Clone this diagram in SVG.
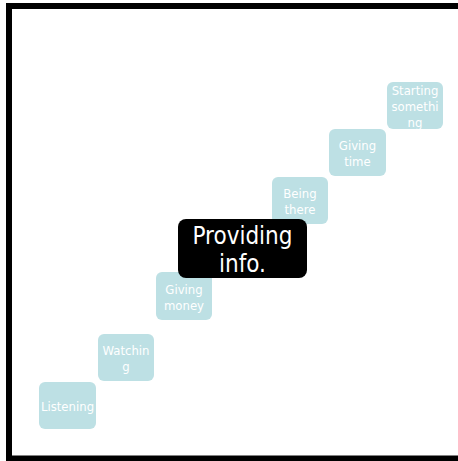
<svg xmlns="http://www.w3.org/2000/svg" width="458" height="461" viewBox="0 0 458 461">
<style>
.sb{fill:#bde0e4;}
.st{fill:#ffffff;font-family:"DejaVu Sans Condensed","DejaVu Sans",sans-serif;font-stretch:condensed;font-size:13px;text-anchor:middle;}
.mt{fill:#ffffff;font-family:"DejaVu Sans Condensed","DejaVu Sans",sans-serif;font-stretch:condensed;font-size:24px;text-anchor:middle;}
</style>
<rect x="0" y="0" width="458" height="461" fill="#ffffff"/>
<rect id="frame" x="9" y="6" width="470" height="452.5" fill="none" stroke="#000000" stroke-width="6"/>
<g id="connectors"/>
<g id="n-starting"><rect class="sb" x="387" y="82" width="56" height="47" rx="6"/><text class="st" x="415" y="95">Starting</text><text class="st" x="415" y="111">somethi</text><text class="st" x="415" y="127">ng</text></g>
<g id="n-time"><rect class="sb" x="329" y="129" width="57" height="47" rx="6"/><text class="st" x="357.5" y="150">Giving</text><text class="st" x="357.5" y="166">time</text></g>
<g id="n-there"><rect class="sb" x="272" y="177" width="56" height="47" rx="6"/><text class="st" x="300" y="197.5">Being</text><text class="st" x="300" y="213.5">there</text></g>
<g id="n-money"><rect class="sb" x="156" y="272" width="56" height="48" rx="6"/><text class="st" x="184" y="293.5">Giving</text><text class="st" x="184" y="309.5">money</text></g>
<g id="n-watching"><rect class="sb" x="98" y="334" width="56" height="47" rx="6"/><text class="st" x="126" y="354.5">Watchin</text><text class="st" x="126" y="370.5">g</text></g>
<g id="n-listening"><rect class="sb" x="39" y="382" width="57" height="47" rx="6"/><text class="st" x="67.5" y="411">Listening</text></g>
<g id="n-providing"><rect x="178" y="219" width="129" height="59" rx="8" fill="#000000"/><text class="mt" x="242.5" y="244">Providing</text><text class="mt" x="242.5" y="272">info.</text></g>
</svg>
